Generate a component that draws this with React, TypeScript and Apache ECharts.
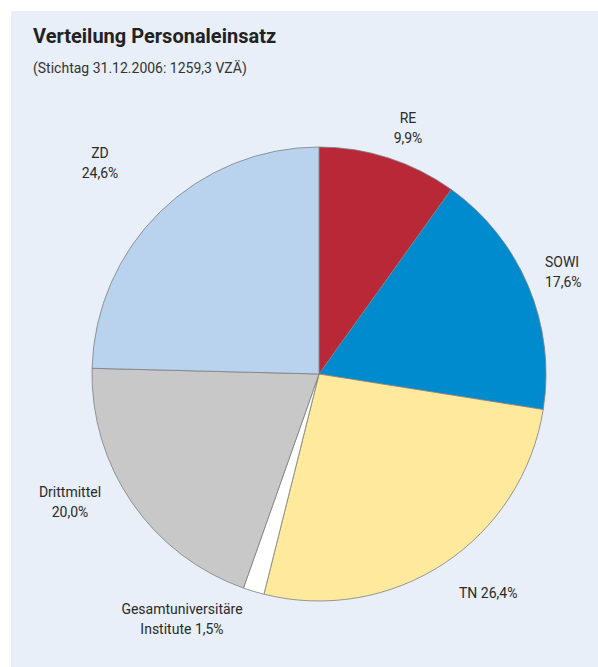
import React, { useEffect, useRef } from "react";
import * as echarts from "echarts";

const categories = ["RE", "SOWI", "TN", "Gesamtuniversitäre Institute", "Drittmittel", "ZD"];
const values = [9.9, 17.6, 26.4, 1.5, 20.0, 24.6];
const labelTexts = [
  "RE\n9,9%",
  "SOWI\n17,6%",
  "TN 26,4%",
  "Gesamtuniversitäre\nInstitute 1,5%",
  "Drittmittel\n20,0%",
  "ZD\n24,6%",
];
const colors = ["#b82837", "#008bcf", "#fee99c", "#ffffff", "#c8c8c9", "#b9d3ee"];
const title = "Verteilung Personaleinsatz";
const subtitle = "(Stichtag 31.12.2006: 1259,3 VZÄ)";

// label anchor positions (layout only)
const labelPos: { x: number; y: number; align: string }[] = [
  { x: 408, y: 128, align: "center" },
  { x: 545, y: 272, align: "left" },
  { x: 459, y: 593, align: "left" },
  { x: 182, y: 619, align: "center" },
  { x: 70, y: 502, align: "center" },
  { x: 100, y: 163, align: "center" },
];

export default function App() {
  const ref = useRef<HTMLDivElement>(null);
  useEffect(() => {
    if (!ref.current) return;
    const chart = echarts.init(ref.current, undefined, { renderer: "svg" });
    const font = "Roboto, 'Noto Sans', sans-serif";
    chart.setOption({
      animation: false,
      backgroundColor: "#ffffff",
      graphic: [
        {
          type: "rect",
          z: -10,
          shape: { x: 11, y: 11, width: 598, height: 667 },
          style: { fill: "#e8eff9" },
          silent: true,
        },
        {
          type: "text",
          x: 33,
          y: 26,
          style: { text: title, fontFamily: font, fontWeight: "bold", fontSize: 20, fill: "#222222" },
        },
        {
          type: "text",
          x: 33,
          y: 61,
          style: { text: subtitle, fontFamily: font, fontSize: 14, fill: "#333333" },
        },
      ],
      series: [
        {
          type: "pie",
          center: [319, 374],
          radius: 227,
          startAngle: 90,
          clockwise: true,
          avoidLabelOverlap: false,
          itemStyle: { borderColor: "#7f7f7f", borderWidth: 0.8 },
          label: {
            show: true,
            position: "outside",
            fontFamily: font,
            fontSize: 14,
            color: "#2a2a2a",
            lineHeight: 20,
            formatter: (p: any) => labelTexts[p.dataIndex],
          },
          labelLine: { show: false },
          labelLayout: (p: any) => {
            const lp = labelPos[p.dataIndex];
            return { x: lp.x, y: lp.y, align: lp.align, verticalAlign: "middle" };
          },
          data: categories.map((c, i) => ({
            name: c,
            value: values[i],
            itemStyle: { color: colors[i] },
            label: { align: labelPos[i].align },
          })),
        },
      ],
    });
    return () => chart.dispose();
  }, []);
  return (
    <div
      ref={ref}
      style={{ position: "absolute", left: 0, top: 0, width: 598, height: 667 }}
    />
  );
}
